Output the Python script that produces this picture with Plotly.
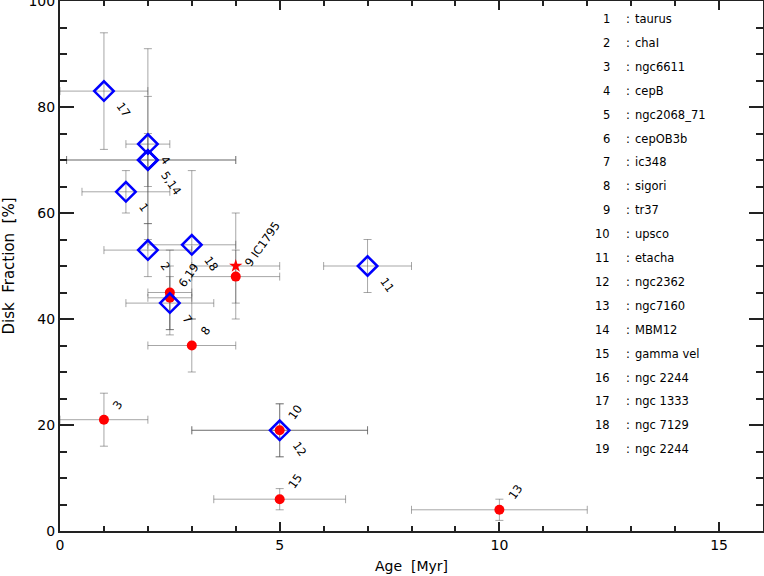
import plotly.graph_objects as go

# ---------------- data ----------------
# blue diamonds
blue_id = ["1", "2", "4", "5", "14", "7", "11", "12", "17", "18"]
blue_x = [1.5, 2.0, 2.0, 2.0, 2.0, 2.5, 7.0, 5.0, 1.0, 3.0]
blue_y = [64, 53, 73, 70, 70, 43, 50, 19, 83, 54]
blue_xerr_plus = [1.0, 1.0, 0.5, 2.0, 2.0, 1.0, 1.0, 2.0, 1.0, 1.0]
blue_xerr_minus = [1.0, 1.0, 0.5, 1.85, 1.85, 1.0, 1.0, 2.0, 1.0, 1.0]
blue_yerr = [4, 5, 18, 12, 5, 5, 5, 5, 11, 14]
blue_label = ["1", "2", "4", "5,14", "", "7", "11", "12", "17", "18"]

# red filled circles
red_id = ["3", "6", "19", "8", "9", "10", "13", "15"]
red_x = [1.0, 2.5, 2.5, 3.0, 4.0, 5.0, 10.0, 5.0]
red_y = [21, 45, 44, 35, 48, 19, 4, 6]
red_xerr = [1.0, 0.5, 0.5, 1.0, 1.0, 2.0, 2.0, 1.5]
red_yerr = [5, 8, 6, 5, 5, 5, 2, 2]
red_label = ["3", "", "6,19", "8", "9 IC1795", "10", "13", "15"]

# red star (IC1795)
star_x = [4.0]
star_y = [50]
star_xerr = [1.0]
star_yerr = [10]

# legend list
legend_num = [str(i) for i in range(1, 20)]
legend_name = ["taurus", "chaI", "ngc6611", "cepB", "ngc2068_71", "cepOB3b",
               "ic348", "sigori", "tr37", "upsco", "etacha", "ngc2362",
               "ngc7160", "MBM12", "gamma vel", "ngc 2244", "ngc 1333",
               "ngc 7129", "ngc 2244"]

x_ticks = [0, 5, 10, 15]
y_ticks = [0, 20, 40, 60, 80, 100]

# ---------------- figure ----------------
FONT = "DejaVu Sans"
ERRC = "rgba(80,80,80,0.5)"
fig = go.Figure()

def err_trace(x, y, xp, xm, ye):
    return go.Scatter(
        x=x, y=y, mode="markers",
        marker=dict(color="rgba(0,0,0,0)", size=1),
        error_x=dict(type="data", array=xp, arrayminus=xm, symmetric=False,
                     color=ERRC, thickness=1, width=4),
        error_y=dict(type="data", array=ye, color=ERRC, thickness=1, width=4),
        hoverinfo="skip", showlegend=False, cliponaxis=True)

fig.add_trace(err_trace(red_x, red_y, red_xerr, red_xerr, red_yerr))
fig.add_trace(err_trace(star_x, star_y, star_xerr, star_xerr, star_yerr))
fig.add_trace(err_trace(blue_x, blue_y, blue_xerr_plus, blue_xerr_minus, blue_yerr))

fig.add_trace(go.Scatter(x=red_x, y=red_y, mode="markers",
                         marker=dict(symbol="circle", size=10, color="#ff0000"),
                         showlegend=False))
fig.add_trace(go.Scatter(x=star_x, y=star_y, mode="markers",
                         marker=dict(symbol="star", size=10, color="#ff0000"),
                         showlegend=False))
fig.add_trace(go.Scatter(x=blue_x, y=blue_y, mode="markers",
                         marker=dict(symbol="diamond-open", size=15, color="#0000ff",
                                     line=dict(width=2.5, color="#0000ff")),
                         showlegend=False))

annotations = []
for x, y, t in zip(red_x, red_y, red_label):
    if t:
        annotations.append(dict(x=x, y=y, xref="x", yref="y", text=t, showarrow=False,
                                textangle=-55, xanchor="left", yanchor="bottom",
                                xshift=3, yshift=5,
                                font=dict(family=FONT, size=11.5, color="black")))
for x, y, t in zip(blue_x, blue_y, blue_label):
    if t:
        annotations.append(dict(x=x, y=y, xref="x", yref="y", text=t, showarrow=False,
                                textangle=55, xanchor="left", yanchor="top",
                                xshift=7, yshift=-6,
                                font=dict(family=FONT, size=11.5, color="black")))

for i, (n, name) in enumerate(zip(legend_num, legend_name)):
    yy = 96.6 - 4.51 * i
    annotations.append(dict(x=12.57, y=yy, xref="x", yref="y", text=n, showarrow=False,
                            xanchor="right", yanchor="middle",
                            font=dict(family=FONT, size=11.5, color="black")))
    annotations.append(dict(x=12.84, y=yy, xref="x", yref="y", text=":", showarrow=False,
                            xanchor="left", yanchor="middle",
                            font=dict(family=FONT, size=11.5, color="black")))
    annotations.append(dict(x=13.05, y=yy, xref="x", yref="y", text=name, showarrow=False,
                            xanchor="left", yanchor="middle",
                            font=dict(family=FONT, size=11.5, color="black")))

axis_common = dict(showgrid=False, zeroline=False, showline=True, linewidth=2,
                   linecolor="#222", mirror="ticks", ticks="inside",
                   tickcolor="#222", tickwidth=1.5, automargin=False,
                   ticklabeloverflow="allow",
                   tickfont=dict(family=FONT, size=14, color="black"))

fig.update_layout(
    width=764, height=576,
    margin=dict(l=60, r=1, t=1, b=45, autoexpand=False),
    paper_bgcolor="white", plot_bgcolor="white",
    annotations=annotations,
    xaxis=dict(range=[0, 16], tickvals=x_ticks, ticklen=9,
               minor=dict(dtick=1, ticklen=5, ticks="inside", tickcolor="#222", tickwidth=1.5),
               title=dict(text="Age&nbsp; [Myr]", font=dict(family=FONT, size=14, color="black"),
                          standoff=9),
               **axis_common),
    yaxis=dict(range=[0, 100], tickvals=y_ticks, ticklen=14,
               minor=dict(dtick=5, ticklen=7, ticks="inside", tickcolor="#222", tickwidth=1.5),
               title=dict(text="Disk&nbsp; Fraction&nbsp; [%]",
                          font=dict(family=FONT, size=15, color="black"),
                          standoff=11),
               **axis_common),
)

fig.write_html("out.html",
               config={"displayModeBar": False},
               post_script="document.body.style.margin='0';document.body.style.overflow='hidden';")
